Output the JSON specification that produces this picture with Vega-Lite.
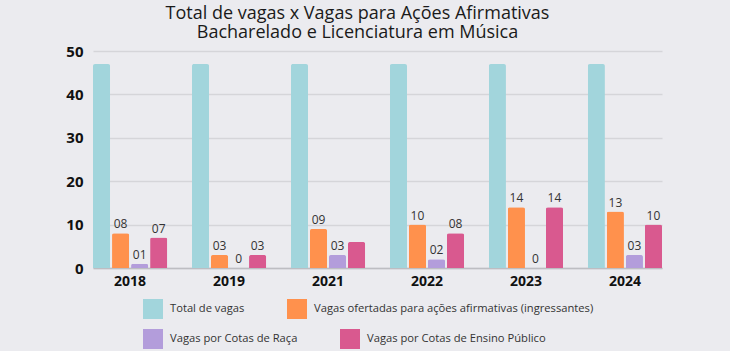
{
  "$schema": "https://vega.github.io/schema/vega-lite/v6.json",
  "width": 569,
  "height": 217,
  "autosize": {"type": "none"},
  "padding": {"left": 93, "top": 51, "right": 68, "bottom": 83},
  "background": "#ebebef",
  "title": {
    "text": ["Total de vagas x Vagas para Ações Afirmativas", "Bacharelado e Licenciatura em Música"],
    "fontSize": 18,
    "font": "Open Sans",
    "fontWeight": "normal",
    "color": "#1a1a1a",
    "lineHeight": 19,
    "anchor": "middle",
    "dx": -20,
    "offset": 2
  },
  "data": {
    "values": [
      {"ano": "2018", "serie": "Total de vagas", "valor": 47, "rotulo": ""},
      {"ano": "2018", "serie": "Vagas ofertadas para ações afirmativas (ingressantes)", "valor": 8, "rotulo": "08"},
      {"ano": "2018", "serie": "Vagas por Cotas de Raça", "valor": 1, "rotulo": "01"},
      {"ano": "2018", "serie": "Vagas por Cotas de Ensino Público", "valor": 7, "rotulo": "07"},
      {"ano": "2019", "serie": "Total de vagas", "valor": 47, "rotulo": ""},
      {"ano": "2019", "serie": "Vagas ofertadas para ações afirmativas (ingressantes)", "valor": 3, "rotulo": "03"},
      {"ano": "2019", "serie": "Vagas por Cotas de Raça", "valor": 0, "rotulo": "0"},
      {"ano": "2019", "serie": "Vagas por Cotas de Ensino Público", "valor": 3, "rotulo": "03"},
      {"ano": "2021", "serie": "Total de vagas", "valor": 47, "rotulo": ""},
      {"ano": "2021", "serie": "Vagas ofertadas para ações afirmativas (ingressantes)", "valor": 9, "rotulo": "09"},
      {"ano": "2021", "serie": "Vagas por Cotas de Raça", "valor": 3, "rotulo": "03"},
      {"ano": "2021", "serie": "Vagas por Cotas de Ensino Público", "valor": 6, "rotulo": ""},
      {"ano": "2022", "serie": "Total de vagas", "valor": 47, "rotulo": ""},
      {"ano": "2022", "serie": "Vagas ofertadas para ações afirmativas (ingressantes)", "valor": 10, "rotulo": "10"},
      {"ano": "2022", "serie": "Vagas por Cotas de Raça", "valor": 2, "rotulo": "02"},
      {"ano": "2022", "serie": "Vagas por Cotas de Ensino Público", "valor": 8, "rotulo": "08"},
      {"ano": "2023", "serie": "Total de vagas", "valor": 47, "rotulo": ""},
      {"ano": "2023", "serie": "Vagas ofertadas para ações afirmativas (ingressantes)", "valor": 14, "rotulo": "14"},
      {"ano": "2023", "serie": "Vagas por Cotas de Raça", "valor": 0, "rotulo": "0"},
      {"ano": "2023", "serie": "Vagas por Cotas de Ensino Público", "valor": 14, "rotulo": "14"},
      {"ano": "2024", "serie": "Total de vagas", "valor": 47, "rotulo": ""},
      {"ano": "2024", "serie": "Vagas ofertadas para ações afirmativas (ingressantes)", "valor": 13, "rotulo": "13"},
      {"ano": "2024", "serie": "Vagas por Cotas de Raça", "valor": 3, "rotulo": "03"},
      {"ano": "2024", "serie": "Vagas por Cotas de Ensino Público", "valor": 10, "rotulo": "10"}
    ]
  },
  "encoding": {
    "x": {
      "field": "ano",
      "type": "nominal",
      "scale": {"paddingInner": 0.25, "paddingOuter": 0},
      "axis": {
        "title": null,
        "labelAngle": 0,
        "labelFont": "Open Sans",
        "labelFontWeight": "bold",
        "labelFontSize": 14,
        "labelColor": "#111111",
        "labelPadding": 6,
        "ticks": false,
        "domainColor": "#bdbdc2",
        "domainWidth": 1.5
      }
    },
    "xOffset": {
      "field": "serie",
      "type": "nominal",
      "scale": {
        "domain": ["Total de vagas", "Vagas ofertadas para ações afirmativas (ingressantes)", "Vagas por Cotas de Raça", "Vagas por Cotas de Ensino Público"],
        "paddingInner": 0.1,
        "paddingOuter": 0
      }
    },
    "y": {
      "field": "valor",
      "type": "quantitative",
      "scale": {"domain": [0, 50]},
      "axis": {
        "title": null,
        "values": [0, 10, 20, 30, 40, 50],
        "labelFont": "Open Sans",
        "labelFontWeight": "bold",
        "labelFontSize": 15,
        "labelColor": "#111111",
        "labelPadding": 10,
        "ticks": false,
        "domain": false,
        "gridColor": "#d5d5d9",
        "gridWidth": 1.5
      }
    }
  },
  "layer": [
    {
      "transform": [{"filter": {"field": "serie", "oneOf": ["Total de vagas", "Vagas ofertadas para ações afirmativas (ingressantes)"]}}],
      "mark": {"type": "bar", "cornerRadiusTopLeft": 2, "cornerRadiusTopRight": 2},
      "encoding": {
        "color": {
          "field": "serie",
          "type": "nominal",
          "scale": {
            "domain": ["Total de vagas", "Vagas ofertadas para ações afirmativas (ingressantes)"],
            "range": ["#a2d5dc", "#ff914d"]
          },
          "legend": {
            "title": null,
            "orient": "none",
            "legendX": 50,
            "legendY": 248,
            "direction": "horizontal",
            "columnPadding": 42,
            "padding": 0,
            "symbolType": "square",
            "symbolSize": 400,
            "symbolStrokeWidth": 0,
            "symbolOpacity": 1,
            "labelFont": "Open Sans",
            "labelFontSize": 11.2,
            "labelColor": "#333333",
            "labelOffset": 7,
            "labelLimit": 400
          }
        }
      }
    },
    {
      "transform": [{"filter": {"field": "serie", "oneOf": ["Vagas por Cotas de Raça", "Vagas por Cotas de Ensino Público"]}}],
      "mark": {"type": "bar", "cornerRadiusTopLeft": 2, "cornerRadiusTopRight": 2},
      "encoding": {
        "color": {
          "field": "serie",
          "type": "nominal",
          "scale": {
            "domain": ["Vagas por Cotas de Raça", "Vagas por Cotas de Ensino Público"],
            "range": ["#b39ddb", "#d9598f"]
          },
          "legend": {
            "title": null,
            "orient": "none",
            "legendX": 50,
            "legendY": 278,
            "direction": "horizontal",
            "columnPadding": 42,
            "padding": 0,
            "symbolType": "square",
            "symbolSize": 400,
            "symbolStrokeWidth": 0,
            "symbolOpacity": 1,
            "labelFont": "Open Sans",
            "labelFontSize": 11.2,
            "labelColor": "#333333",
            "labelOffset": 7,
            "labelLimit": 400
          }
        }
      }
    },
    {
      "mark": {"type": "text", "baseline": "bottom", "dy": -2, "font": "Open Sans", "fontSize": 12, "color": "#333333"},
      "encoding": {"text": {"field": "rotulo"}}
    }
  ],
  "resolve": {"scale": {"color": "independent"}},
  "config": {"view": {"stroke": null}}
}
